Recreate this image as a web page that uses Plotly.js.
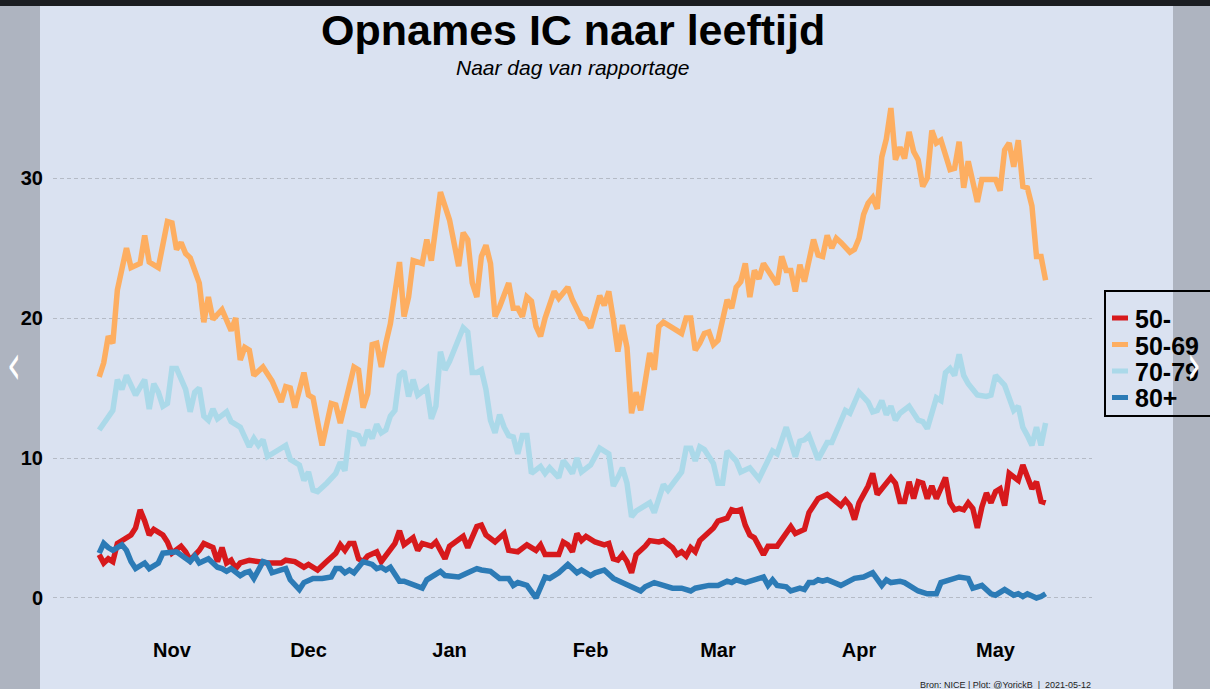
<!DOCTYPE html>
<html>
<head>
<meta charset="utf-8">
<script src="https://cdn.plot.ly/plotly-3.0.1.min.js"></script>
<style>
  html, body { margin:0; padding:0; overflow:hidden; width:1210px; height:689px; background:#dae2f1; }
  #chart { position:absolute; left:0; top:0; width:1260px; height:689px; }
  .shade { position:absolute; background:rgba(0,0,0,0.2); }
  .topbar { position:absolute; left:0; top:0; width:1210px; height:6px; background:#1b1d21; }
  .arrow { position:absolute; color:#ffffff; font-family:"DejaVu Sans", sans-serif; font-size:40px; line-height:40px; transform:scale(0.9,1.4); }
</style>
</head>
<body>
<div id="chart"></div>
<div class="shade" style="left:0;top:6px;width:40px;height:683px;"></div>
<div class="shade" style="left:1173px;top:6px;width:37px;height:683px;"></div>
<div class="topbar"></div>
<div class="arrow" style="left:6px;top:344px;">‹</div>
<div class="arrow" style="left:1186px;top:344px;">›</div>
<script>
// Days are counted from 2020-11-01
const seriesNames = ['50-', '50-69', '70-79', '80+'];
const seriesColors = ['#d7191c', '#fdae61', '#abd9e9', '#2c7bb6'];

const days_50min = [
  -16,-15,-14,-13,-12,-11,-9,-8,-7,-6,
  -5,-4,-2,-1,0,2,3,4,6,7,
  9,10,11,12,13,14,15,17,19,21,
  24,25,27,29,30,32,34,36,37,38,
  39,40,41,42,43,45,46,48,49,50,
  51,53,54,55,57,58,60,61,64,65,
  67,68,69,71,73,74,76,78,80,81,
  82,85,86,87,88,89,90,91,93,95,
  96,97,98,99,100,101,102,104,105,107,
  108,110,111,112,113,114,115,116,119,120,
  122,123,124,125,126,127,128,130,131,133,
  134,136,137,139,140,142,144,145,147,148,
  149,150,151,153,154,155,157,158,159,160,
  161,162,163,164,165,166,167,168,170,171,
  172,173,174,175,176,177,178,179,180,181,
  182,183,184,185,186,187,188,189,190,191,
  192];
const vals_50min = [
  3.1,2.5,2.8,2.6,3.9,4.1,4.5,5.0,6.3,5.5,
  4.5,4.9,4.5,4.0,3.2,3.7,3.3,2.7,3.4,3.9,
  3.6,2.6,3.6,2.5,2.7,2.1,2.5,2.7,2.6,2.5,
  2.5,2.7,2.6,2.2,2.4,2.0,2.6,3.2,3.8,3.4,
  3.9,3.9,2.8,2.6,3.0,3.3,2.6,3.4,3.9,4.8,
  3.8,4.3,3.4,3.9,3.7,4.0,2.8,3.7,4.4,3.6,
  5.1,5.2,4.5,4.0,4.6,3.4,3.3,3.8,3.4,3.8,
  3.1,3.1,4.0,3.8,3.3,4.6,4.1,4.4,4.0,3.8,
  3.9,2.8,2.7,3.1,2.6,1.8,3.1,3.7,4.1,4.0,
  4.1,3.6,3.1,3.3,3.0,3.6,3.3,4.1,5.0,5.5,
  5.7,6.3,6.2,6.3,5.2,4.5,4.3,3.1,3.7,3.7,
  4.2,5.1,4.6,4.9,6.1,7.1,7.4,7.1,6.6,7.0,
  6.6,5.6,6.8,8.0,8.9,7.4,8.3,8.6,8.2,6.9,
  6.9,8.3,7.1,8.3,8.2,7.1,8.0,7.1,8.6,6.8,
  6.3,6.4,6.3,6.8,6.4,5.0,6.5,7.5,6.8,7.6,
  7.8,6.6,8.9,8.6,8.4,9.5,8.7,7.8,8.3,6.9,
  6.8];

const days_50_69 = [
  -16,-15,-14,-13,-12,-10,-9,-7,-6,-5,
  -3,-1,0,1,2,3,4,6,7,8,
  9,11,13,14,15,16,17,18,20,22,
  24,25,26,27,29,30,31,33,35,36,
  37,40,41,42,43,44,45,46,47,48,
  50,51,52,53,55,56,57,59,61,62,
  63,64,65,66,67,68,69,70,71,72,
  74,75,76,77,78,79,80,81,82,84,
  85,87,88,90,91,92,94,95,96,97,
  98,99,100,101,102,103,105,106,107,108,
  109,110,112,113,114,115,116,117,118,119,
  120,122,123,124,125,126,127,128,129,130,
  132,133,134,135,136,137,138,139,141,142,
  143,144,145,146,147,149,150,151,152,153,
  154,155,156,157,158,159,160,161,162,163,
  164,165,166,167,168,169,171,172,173,174,
  175,177,178,180,181,182,183,184,185,186,
  187,188,189,190,191,192];
const vals_50_69 = [
  15.8,16.8,18.7,18.2,22.0,25.0,23.6,23.9,25.9,24.0,
  23.6,26.9,26.8,24.9,25.4,24.6,24.3,22.5,19.7,21.5,
  19.9,20.6,19.1,20.0,17.0,17.9,17.7,15.9,16.5,15.5,
  14.0,15.1,15.0,13.6,16.1,14.5,14.3,10.9,13.9,13.8,
  12.5,16.5,16.3,13.6,14.6,18.1,18.2,16.5,18.2,19.6,
  24.0,20.1,21.5,24.1,23.9,25.6,24.1,29.0,27.0,25.3,
  23.7,26.1,25.6,22.5,21.5,24.4,25.2,23.9,20.1,20.8,
  22.5,20.7,20.7,20.1,21.5,21.2,19.4,18.7,20.0,21.9,
  21.4,22.2,21.3,20.0,19.9,19.3,21.6,20.9,21.9,19.9,
  17.6,19.5,17.9,13.2,14.7,13.4,17.5,16.3,19.4,19.7,
  19.5,19.4,18.9,20.0,20.0,17.7,18.2,18.9,19.0,18.1,
  18.4,21.3,20.7,22.2,22.6,23.9,21.5,23.4,22.8,23.9,
  22.8,22.4,24.4,23.4,23.4,21.9,23.8,22.6,25.6,24.5,
  24.4,25.9,25.0,25.7,25.4,24.7,24.9,25.7,27.4,28.2,
  28.6,27.8,31.5,32.8,35.0,31.3,32.2,31.4,33.3,31.9,
  31.3,29.4,30.0,33.4,32.5,32.7,30.6,30.7,32.6,29.3,
  31.2,28.3,29.9,29.9,29.9,29.1,32.0,32.5,30.8,32.7,
  29.4,29.3,28.0,24.4,24.4,22.7];

const days_70_79 = [
  -16,-14,-13,-12,-11,-10,-8,-6,-5,-4,
  -3,-2,-1,0,1,3,4,5,6,7,
  8,9,10,12,13,15,17,18,19,20,
  21,23,25,26,28,29,30,31,32,34,
  36,37,38,39,41,42,43,44,45,46,
  47,48,49,50,51,52,53,54,55,56,
  57,58,59,60,61,62,64,65,66,67,
  68,69,70,71,72,73,74,75,76,77,
  78,79,81,82,83,85,86,87,88,89,
  90,92,94,96,97,98,99,100,101,102,
  105,106,108,109,112,113,114,115,116,117,
  119,120,121,122,124,125,126,127,129,132,
  133,135,137,138,139,140,142,144,145,147,
  148,149,151,153,154,155,156,157,158,159,
  160,162,164,165,166,167,168,169,170,171,
  172,173,174,175,177,179,180,181,183,184,
  185,186,187,188,189,190,191,192];
const vals_70_79 = [
  12.0,13.0,13.4,15.6,14.9,15.9,14.5,15.6,13.5,15.3,
  14.7,13.7,13.9,16.4,16.4,14.9,13.3,14.7,15.0,13.0,
  12.7,13.5,12.8,13.3,12.6,12.2,10.8,11.4,10.9,11.3,
  10.1,10.5,10.9,9.9,9.5,8.4,9.0,7.7,7.6,8.2,
  8.9,9.7,9.1,11.8,11.6,10.9,12.0,11.4,12.4,11.8,
  12.0,13.0,13.4,15.9,16.2,14.4,15.6,14.5,14.7,15.0,
  12.8,13.7,17.6,16.3,16.9,17.7,19.3,19.0,16.1,16.1,
  16.3,14.9,12.7,11.8,13.1,12.2,11.6,11.5,10.3,11.6,
  11.6,8.9,9.4,8.9,9.3,8.6,9.8,9.4,8.9,10.0,
  9.0,9.5,10.7,10.3,8.0,8.6,9.3,8.2,5.8,6.2,
  6.8,6.1,8.1,7.7,9.0,10.7,10.7,9.8,10.8,10.6,
  9.6,8.2,8.2,10.5,9.8,9.0,9.1,9.3,8.5,10.5,
  10.3,12.2,10.1,11.2,11.3,11.6,9.9,11.1,11.1,12.7,
  13.4,13.2,14.7,14.0,13.3,13.4,14.1,13.1,13.7,12.7,
  13.2,13.7,12.7,12.6,12.1,13.2,14.3,14.1,16.1,16.4,
  15.9,17.4,15.9,15.3,14.5,14.4,14.5,15.9,15.2,14.3,
  13.4,13.7,12.2,11.6,10.9,12.2,10.9,12.5];

const days_80plus = [
  -16,-15,-14,-13,-11,-10,-9,-8,-6,-5,
  -3,-2,1,2,4,5,6,8,10,11,
  12,13,15,16,17,18,19,20,21,22,
  24,25,26,28,29,31,33,35,36,37,
  38,39,40,42,44,45,46,47,48,50,
  51,53,55,56,57,59,60,63,65,67,
  68,70,72,74,75,76,78,79,80,82,
  83,85,87,88,89,90,92,93,95,97,
  99,101,103,104,106,108,110,112,114,115,
  118,120,122,123,124,126,127,128,130,131,
  132,133,135,136,138,139,140,141,142,143,
  144,147,149,150,152,154,156,157,158,160,
  161,163,164,166,168,169,170,172,173,175,
  176,177,178,180,181,183,185,186,187,188,
  190,191,192];
const vals_80plus = [
  3.2,3.9,3.6,3.4,3.8,3.4,2.6,2.1,2.5,2.1,
  2.5,3.2,3.3,3.1,2.6,3.0,2.5,2.8,2.2,2.1,
  1.9,2.1,1.6,1.8,1.9,1.4,2.0,2.6,2.5,1.8,
  2.0,2.1,1.3,0.6,1.1,1.4,1.4,1.5,2.1,2.1,
  1.8,2.0,1.8,2.6,2.4,2.1,2.2,2.0,2.2,1.2,
  1.2,0.9,0.7,1.3,1.5,1.9,1.6,1.5,1.8,2.1,
  2.0,1.9,1.4,1.4,0.9,1.1,0.9,0.5,0.0,1.5,
  1.4,1.8,2.4,2.1,1.8,2.0,1.6,1.8,2.0,1.4,
  1.1,0.7,0.5,0.8,1.1,0.9,0.7,0.7,0.5,0.7,
  0.9,0.9,1.2,1.1,1.3,1.1,1.2,1.2,1.5,0.9,
  1.3,0.9,0.8,0.5,0.7,0.6,1.1,1.1,1.3,1.2,
  1.3,0.9,1.3,1.4,1.5,1.8,0.9,1.3,1.1,1.2,
  1.1,0.7,0.5,0.3,0.3,1.1,1.2,1.3,1.5,1.4,
  0.7,0.8,0.9,0.3,0.2,0.6,0.2,0.3,0.1,0.3,
  0.0,0.1,0.3];

const yTickVals = [0, 10, 20, 30];
const monthTickDays = [0, 30, 61, 92, 120, 151, 181];
const monthTickText = ['Nov', 'Dec', 'Jan', 'Feb', 'Mar', 'Apr', 'May'];

const titleText = 'Opnames IC naar leeftijd';
const subtitleText = 'Naar dag van rapportage';
const captionText = 'Bron: NICE | Plot: @YorickB &nbsp;| &nbsp;2021-05-12';

const BASE = Date.UTC(2020, 10, 1);
const DAYMS = 86400000;
function toDate(d) { return new Date(BASE + d * DAYMS).toISOString().slice(0, 19).replace('T', ' '); }

const allDays = [days_50min, days_50_69, days_70_79, days_80plus];
const allVals = [vals_50min, vals_50_69, vals_70_79, vals_80plus];

const traces = seriesNames.map((name, i) => ({
  type: 'scatter', mode: 'lines', name: name,
  x: allDays[i].map(toDate), y: allVals[i],
  line: { color: seriesColors[i], width: 5.5, shape: 'linear' },
  hoverinfo: 'skip', showlegend: false
}));

const FONT = 'Liberation Sans, Arial, Helvetica, sans-serif';

// plot area in pixels: x 53..1092, y 83..625
const PL = 53, PW = 1039, PB = 625, PH = 542;
const px = v => (v - PL) / PW;
const py = v => (PB - v) / PH;

// legend drawn as a boxed key (left edge, top, bottom and row positions in pixels)
const legendRows = [318, 344.5, 371, 397.5];
const shapes = [
  { type: 'rect', xref: 'paper', yref: 'paper', x0: px(1105), x1: px(1250), y0: py(416), y1: py(291),
    line: { color: '#000', width: 2 }, fillcolor: '#dae2f1', layer: 'above' }
];
const legendAnn = [];
seriesNames.forEach((name, i) => {
  shapes.push({ type: 'line', xref: 'paper', yref: 'paper', x0: px(1112), x1: px(1128),
    y0: py(legendRows[i]), y1: py(legendRows[i]), line: { color: seriesColors[i], width: 5 }, layer: 'above' });
  legendAnn.push({ text: name, xref: 'paper', yref: 'paper', x: px(1133), y: py(legendRows[i] + 1),
    xanchor: 'left', yanchor: 'middle', showarrow: false,
    font: { family: FONT, size: 25, weight: 'bold', color: '#000' } });
});

const layout = {
  width: 1260, height: 689,
  margin: { l: 53, r: 168, t: 83, b: 64, pad: 0 },
  paper_bgcolor: '#dae2f1', plot_bgcolor: '#dae2f1',
  font: { family: FONT, color: '#000' },
  showlegend: false,
  xaxis: {
    type: 'date',
    range: [toDate(-26.15), toDate(202.2)],
    tickvals: monthTickDays.map(toDate), ticktext: monthTickText,
    showgrid: false, zeroline: false, showline: false, ticks: '',
    tickfont: { family: FONT, size: 20, weight: 'bold', color: '#000' },
    ticklabelstandoff: 11, fixedrange: true
  },
  yaxis: {
    range: [-1.93, 36.79],
    tickvals: yTickVals, ticktext: yTickVals.map(String),
    showgrid: true, gridcolor: '#b5bbc6', gridwidth: 1, griddash: '4px,3px',
    zeroline: false, showline: false, ticks: '',
    tickfont: { family: FONT, size: 20, weight: 'bold', color: '#000' },
    ticklabelstandoff: 9, fixedrange: true
  },
  shapes: shapes,
  annotations: [
    { text: titleText, xref: 'paper', yref: 'paper', x: 0.5, y: 1.0978, xanchor: 'center', yanchor: 'middle',
      showarrow: false, font: { family: FONT, size: 43, weight: 'bold', color: '#000' } },
    { text: subtitleText, xref: 'paper', yref: 'paper', x: 0.5, y: 1.0295, xanchor: 'center', yanchor: 'middle',
      showarrow: false, font: { family: FONT, size: 21, style: 'italic', color: '#000' } },
    { text: captionText, xref: 'paper', yref: 'paper', x: 1.001, y: -0.1107, xanchor: 'right', yanchor: 'middle',
      showarrow: false, font: { family: FONT, size: 9, color: '#222' } }
  ].concat(legendAnn)
};

Plotly.newPlot('chart', traces, layout, { displayModeBar: false, staticPlot: true });
</script>
</body>
</html>
